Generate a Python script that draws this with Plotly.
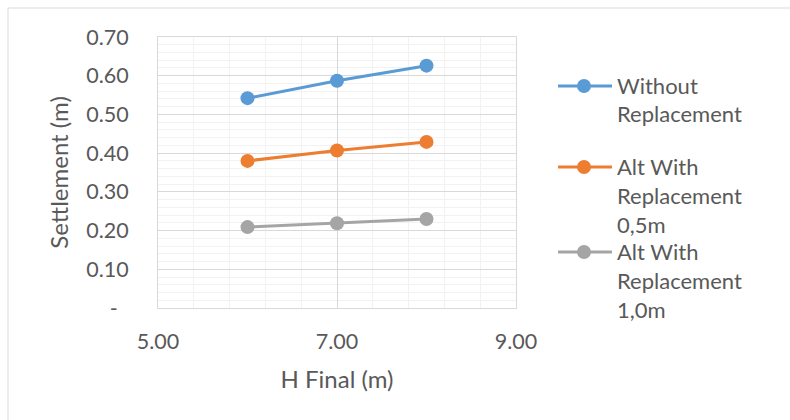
import plotly.graph_objects as go

# ---- data ----
h_final = [6, 7, 8]
without_repl = [0.542, 0.587, 0.626]
alt_05 = [0.380, 0.407, 0.429]
alt_10 = [0.209, 0.219, 0.230]
series_names = ["Without<br>Replacement",
                "Alt With<br>Replacement<br>0,5m",
                "Alt With<br>Replacement<br>1,0m"]
series_values = [without_repl, alt_05, alt_10]
series_colors = ["#5B9BD5", "#ED7D31", "#A5A5A5"]
y_tickvals = [0, 0.1, 0.2, 0.3, 0.4, 0.5, 0.6, 0.7]
y_ticktext = ["-\u00a0\u00a0", "0.10", "0.20", "0.30", "0.40", "0.50", "0.60", "0.70"]
x_tickvals = [5, 7, 9]
x_ticktext = ["5.00", "7.00", "9.00"]

# ---- layout constants ----
W, H = 790, 420
ML, MR, MT, MB = 158, 274, 37, 112
PW, PH = W - ML - MR, H - MT - MB
FONT = "Lato"
TXT = "#595959"
FS = 21.5
FS_TITLE = 24
FS_LEG = 22


def px_x(p):
    return (p - ML) / PW


def px_y(p):
    return 1 - (p - MT) / PH


fig = go.Figure()
for name, vals, col in zip(series_names, series_values, series_colors):
    fig.add_trace(go.Scatter(
        x=h_final, y=vals, mode="lines+markers", name=name,
        line=dict(color=col, width=3),
        marker=dict(color=col, size=14),
        showlegend=False, hoverinfo="skip"))

shapes = []
annotations = []
# outer chart border
shapes.append(dict(type="rect", xref="paper", yref="paper",
                   x0=px_x(8), x1=px_x(800), y0=px_y(430), y1=px_y(8),
                   line=dict(color="#D9D9D9", width=1), layer="below"))

# custom legend (Excel style)
legend_first_line = [85, 166, 251]
line_gap = 29
for name, col, y0 in zip(series_names, series_colors, legend_first_line):
    shapes.append(dict(type="line", xref="paper", yref="paper",
                       x0=px_x(558), x1=px_x(612), y0=px_y(y0 + 1), y1=px_y(y0 + 1),
                       line=dict(color=col, width=3)))
    shapes.append(dict(type="circle", xref="paper", yref="paper",
                       x0=px_x(584 - 7), x1=px_x(584 + 7),
                       y0=px_y(y0 + 1 + 7), y1=px_y(y0 + 1 - 7),
                       fillcolor=col, line=dict(color=col, width=0)))
    for i, ln in enumerate(name.split("<br>")):
        annotations.append(dict(xref="paper", yref="paper",
                                x=px_x(615), y=px_y(y0 + i * line_gap),
                                xanchor="left", yanchor="middle", showarrow=False,
                                text=ln, font=dict(family=FONT, size=FS_LEG, color=TXT)))

fig.update_layout(
    width=W, height=H,
    margin=dict(l=ML, r=MR, t=MT, b=MB, autoexpand=False),
    paper_bgcolor="white", plot_bgcolor="white",
    font=dict(family=FONT, size=FS, color=TXT),
    shapes=shapes, annotations=annotations,
    showlegend=False,
)
fig.update_xaxes(
    range=[5, 9], tickmode="array", tickvals=x_tickvals, ticktext=x_ticktext,
    showgrid=True, gridcolor="#D9D9D9", gridwidth=1,
    minor=dict(tickmode="linear", tick0=5, dtick=0.4, showgrid=True,
               gridcolor="#F2F2F2", gridwidth=1),
    showline=True, mirror=True, linecolor="#D9D9D9", linewidth=1,
    zeroline=False, ticks="", ticklabelstandoff=14,
    tickfont=dict(family=FONT, size=FS, color=TXT),
    title=dict(text="H Final (m)", standoff=18,
               font=dict(family=FONT, size=FS_TITLE, color=TXT)),
    automargin=False, fixedrange=True,
)
fig.update_yaxes(
    range=[0, 0.7], tickmode="array", tickvals=y_tickvals, ticktext=y_ticktext,
    showgrid=True, gridcolor="#D9D9D9", gridwidth=1,
    minor=dict(tickmode="linear", tick0=0, dtick=0.02, showgrid=True,
               gridcolor="#F2F2F2", gridwidth=1),
    showline=True, mirror=True, linecolor="#D9D9D9", linewidth=1,
    zeroline=False, ticks="", ticklabelstandoff=24,
    tickfont=dict(family=FONT, size=FS, color=TXT),
    title=dict(text="Settlement (m)", standoff=10,
               font=dict(family=FONT, size=FS_TITLE, color=TXT)),
    automargin=False, fixedrange=True,
)

fig.write_html("out.html", config={"displayModeBar": False})
